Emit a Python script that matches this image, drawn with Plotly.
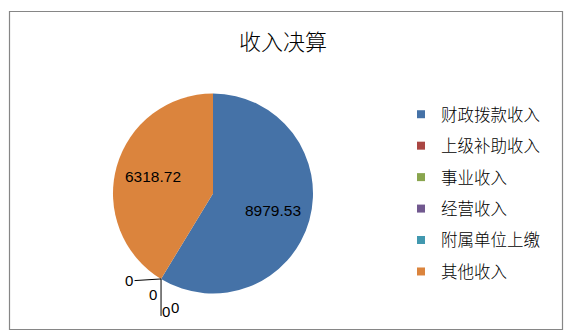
import math
import plotly.graph_objects as go

# ---- data ----
categories = ["财政拨款收入", "上级补助收入", "事业收入", "经营收入", "附属单位上缴", "其他收入"]
values = [8979.53, 0, 0, 0, 0, 6318.72]
value_labels = ["8979.53", "0", "0", "0", "0", "6318.72"]
colors = ["#4572A7", "#AA4643", "#89A54E", "#71588F", "#4198AF", "#DB843D"]
title_text = "收入决算"

W, H = 570, 336
CX, CY, R = 213, 193.5, 100  # pie centre / radius in pixels

def px(x):
    return x / W

def py(y):
    return 1 - y / H

NUM_FONT = "Liberation Sans, Arial"

fig = go.Figure()
fig.add_trace(go.Pie(
    labels=categories, values=values, marker=dict(colors=colors, line=dict(width=0)),
    sort=False, direction="clockwise", rotation=0, textinfo="none",
    hoverinfo="label+value", showlegend=False,
    domain=dict(x=[px(CX - R), px(CX + R)], y=[py(CY + R), py(CY - R)]),
))

# legend entries (one group per category to control spacing)
for name, col in zip(categories, colors):
    fig.add_trace(go.Scatter(
        x=[None], y=[None], mode="markers", name=name, legendgroup=name,
        marker=dict(symbol="square", size=8, color=col),
    ))

annotations = []
shapes = []
total = sum(values)
cum = 0.0
zero_pts = []
for v, lab in zip(values, value_labels):
    a0 = cum / total * 2 * math.pi
    a1 = (cum + v) / total * 2 * math.pi
    cum += v
    if v > 0:
        am = (a0 + a1) / 2
        tx = CX + 0.62 * R * math.sin(am)
        ty = CY - 0.62 * R * math.cos(am)
        annotations.append(dict(x=px(tx), y=py(ty), xref="paper", yref="paper",
                                xanchor="center", yanchor="middle",
                                text=lab, showarrow=False,
                                font=dict(size=15.5, color="#000000", family=NUM_FONT)))
    else:
        zero_pts.append((a0, lab))

# zero-value labels with leader lines
if zero_pts:
    a, _ = zero_pts[0]
    ex = CX + R * math.sin(a)
    ey = CY - R * math.cos(a)
    offsets = [(-32, 2), (-8, 16), (5, 33), (14, 29)]
    for i, (ang, lab) in enumerate(zero_pts):
        dx, dy = offsets[i]
        if i == 0:
            annotations.append(dict(x=px(ex), y=py(ey), xref="paper", yref="paper",
                                    text=lab, showarrow=True, arrowhead=0, arrowwidth=1,
                                    arrowcolor="#000000", ax=dx, ay=dy, standoff=0,
                                    font=dict(size=15, color="#000000", family=NUM_FONT)))
        else:
            annotations.append(dict(x=px(ex), y=py(ey), xref="paper", yref="paper",
                                    xanchor="center", yanchor="middle",
                                    text=lab, showarrow=False, xshift=dx, yshift=-dy,
                                    font=dict(size=15, color="#000000", family=NUM_FONT)))
    shapes.append(dict(type="line", xref="paper", yref="paper",
                       x0=px(ex), y0=py(ey), x1=px(ex), y1=py(ey + 37),
                       line=dict(color="#000000", width=1)))

# chart border
shapes.append(dict(type="rect", xref="paper", yref="paper",
                   x0=px(9.5), y0=py(329.5), x1=px(562.5), y1=py(11.5),
                   line=dict(color="#868686", width=1.2), fillcolor="rgba(0,0,0,0)", layer="below"))

annotations.append(dict(x=px(283), y=py(40), xref="paper", yref="paper", text=title_text,
                        xanchor="center", yanchor="middle", showarrow=False,
                        font=dict(size=22, color="#000000", family="Noto Sans CJK SC", weight=300)))

fig.update_layout(
    width=W, height=H, margin=dict(l=0, r=0, t=0, b=0),
    paper_bgcolor="#FFFFFF", plot_bgcolor="#FFFFFF",
    xaxis=dict(visible=False), yaxis=dict(visible=False),
    annotations=annotations, shapes=shapes,
    legend=dict(x=px(401), y=py(97), xanchor="left", yanchor="top",
                traceorder="grouped", tracegroupgap=7,
                font=dict(size=16.5, color="#000000", family="Noto Sans CJK SC", weight=300),
                bgcolor="rgba(0,0,0,0)", itemwidth=30),
    showlegend=True,
)

fig.write_html("out.html")
